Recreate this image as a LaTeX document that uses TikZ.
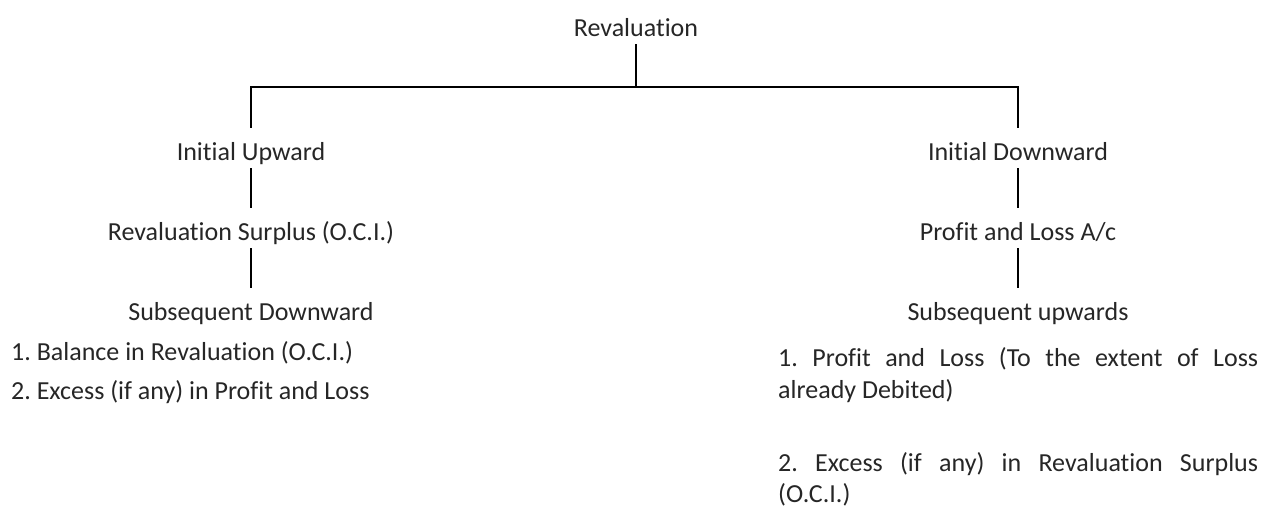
\documentclass[tikz,border=0pt]{standalone}
\usepackage{fontspec}
\setmainfont{Carlito}[Ligatures=NoCommon]
\hyphenpenalty=10000
\newcommand\normsp{\spaceskip=0pt\relax\xspaceskip=0pt\relax\frenchspacing}
\newcommand\jline[1]{\hbox to 480pt{\normsp #1}}
\begin{document}
\begin{tikzpicture}[x=1pt,y=-1pt,
  conn/.style={line width=2.5pt, draw=black},
  lbl/.style={inner sep=0pt, anchor=base, text height=33pt, text depth=7pt,
    font=\fontsize{26}{31}\selectfont, text=black!85},
  lst/.style={inner sep=0pt, anchor=base west, align=left, text=black!85},
]
\useasboundingbox (0,0) rectangle (1262,510);

\node[lbl] (rev) at (636,37) {Revaluation};
\node[lbl] (iu) at (251,161) {Initial Upward};
\node[lbl] (id) at (1018,161) {Initial Downward};
\node[lbl] (rs) at (251,241) {Revaluation Surplus (O.C.I.)};
\node[lbl] (pl) at (1018,241) {Profit and Loss A/c};
\node[lbl] (sd) at (251,321) {Subsequent Downward};
\node[lbl] (su) at (1018,321) {Subsequent upwards};

\node[lst, font=\fontsize{26}{39}\selectfont] (dl) at (11,400)
  {\normsp 1. Balance in Revaluation (O.C.I.)\\\normsp 2. Excess (if any) in Profit and Loss};

\node[lst, text width=480pt, font=\fontsize{26}{32}\selectfont] (p1) at (778,367)
  {\normsp\jline{1. Profit and Loss (To the extent of Loss}\\already Debited)};
\node[lst, text width=480pt, font=\fontsize{26}{31}\selectfont] (p2) at (778,472)
  {\normsp\jline{2. Excess (if any) in Revaluation Surplus}\\(O.C.I.)};

\coordinate (j) at (636,87);
\draw[conn] (rev.south) -- (j);
\draw[conn] (iu.north) -- (iu.north |- j) -- (id.north |- j) -- (id.north);
\draw[conn] (iu.south) -- (rs.north);
\draw[conn] (rs.south) -- (sd.north);
\draw[conn] (id.south) -- (pl.north);
\draw[conn] (pl.south) -- (su.north);
\end{tikzpicture}
\end{document}
